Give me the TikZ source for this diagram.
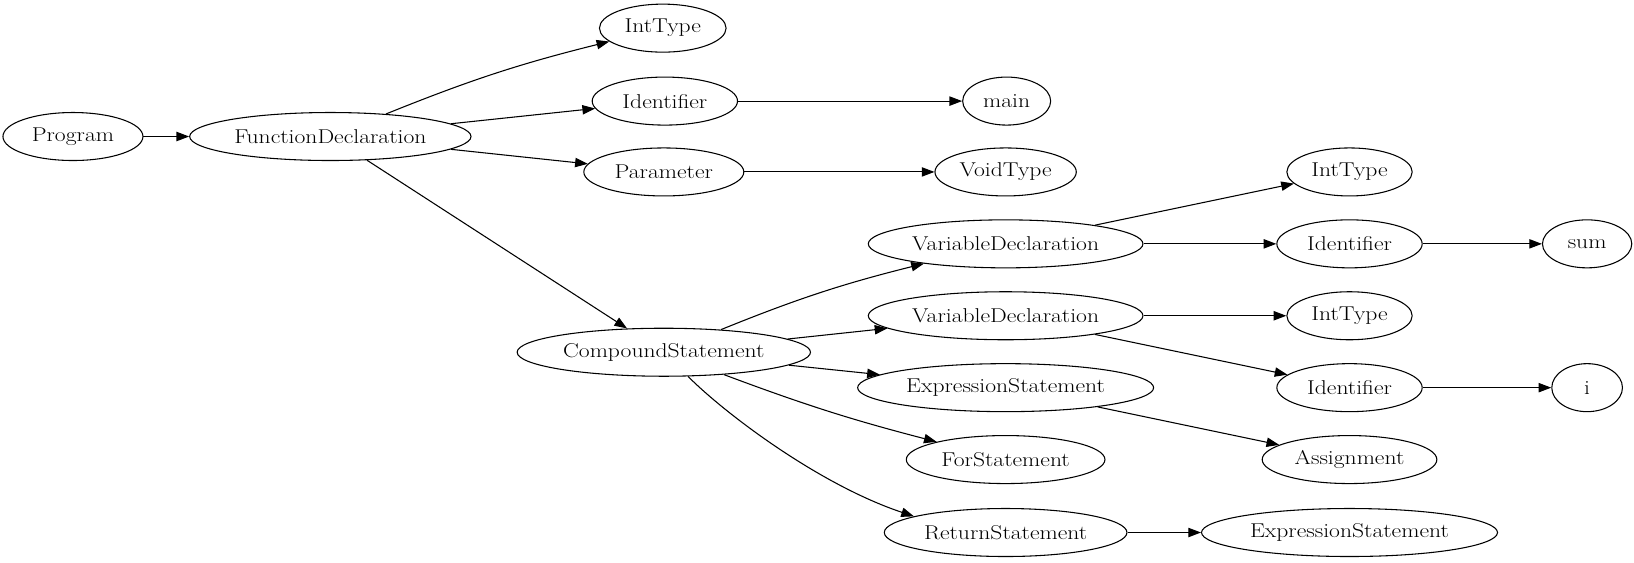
\documentclass[tikz,border=0pt]{standalone}
\usepackage{fontspec}
\setmainfont{Latin Modern Roman}[FakeStretch=1.18]
\usetikzlibrary{shapes.geometric,arrows.meta}

\begin{document}
\begin{tikzpicture}[x=0.78157pt,y=-0.78157pt,
  ast/.style={draw,ellipse,line width=0.8pt,inner xsep=0pt,inner ysep=0pt,
    minimum height=36pt,font=\fontsize{15}{18}\selectfont},
  edge/.style={line width=0.8pt,-{Triangle[length=9.5pt,width=7pt]}}]

\useasboundingbox (0,0) rectangle (1568,540);

% Programme et fonction
\node[ast,minimum width=105pt] (prog) at (70,131) {Program};
\node[ast,minimum width=211pt] (fundecl) at (317,131) {FunctionDeclaration};
\node[ast,minimum width=95pt] (inttype) at (636,27) {IntType};
\node[ast,minimum width=109pt] (ident) at (638,97) {Identifier};
\node[ast,minimum width=66pt] (main) at (966,97) {main};
\node[ast,minimum width=120pt] (param) at (637,165) {Parameter};
\node[ast,minimum width=106pt] (voidtype) at (965,165) {VoidType};

% Corps de la fonction
\node[ast,minimum width=220pt] (compound) at (637,338) {CompoundStatement};
\node[ast,minimum width=206pt] (vardeclA) at (965,234) {VariableDeclaration};
\node[ast,minimum width=94pt] (inttypeA) at (1295,165) {IntType};
\node[ast,minimum width=109pt] (identA) at (1295,234) {Identifier};
\node[ast,minimum width=67pt] (sum) at (1523,234) {sum};
\node[ast,minimum width=206pt] (vardeclB) at (965,303) {VariableDeclaration};
\node[ast,minimum width=94pt] (inttypeB) at (1295,303) {IntType};
\node[ast,minimum width=109pt] (identB) at (1295,372) {Identifier};
\node[ast,minimum width=53pt] (ivar) at (1523,372) {i};
\node[ast,minimum width=222pt] (exprstmt) at (965,372) {ExpressionStatement};
\node[ast,minimum width=131pt] (assign) at (1295,441) {Assignment};
\node[ast,minimum width=149pt] (forstmt) at (965,441) {ForStatement};
\node[ast,minimum width=182pt] (retstmt) at (965,511) {ReturnStatement};
\node[ast,minimum width=222pt] (exprstmtB) at (1295,511) {ExpressionStatement};

% Aretes droites
\foreach \a/\b in {prog/fundecl,fundecl/ident,fundecl/param,fundecl/compound,
  ident/main,param/voidtype,compound/vardeclB,compound/exprstmt,
  vardeclA/inttypeA,vardeclA/identA,identA/sum,vardeclB/inttypeB,
  vardeclB/identB,identB/ivar,exprstmt/assign,retstmt/exprstmtB}
{
\draw[edge] (\a) -- (\b);
}

% Aretes courbes
\draw[edge] (fundecl) to[bend left=4] (inttype);
\draw[edge] (compound) to[bend left=4] (vardeclA);
\draw[edge] (compound) to[bend right=3] (forstmt);
\draw[edge] (compound) .. controls +(60,60) and +(-90,-30) .. (retstmt.170);

\end{tikzpicture}
\end{document}
